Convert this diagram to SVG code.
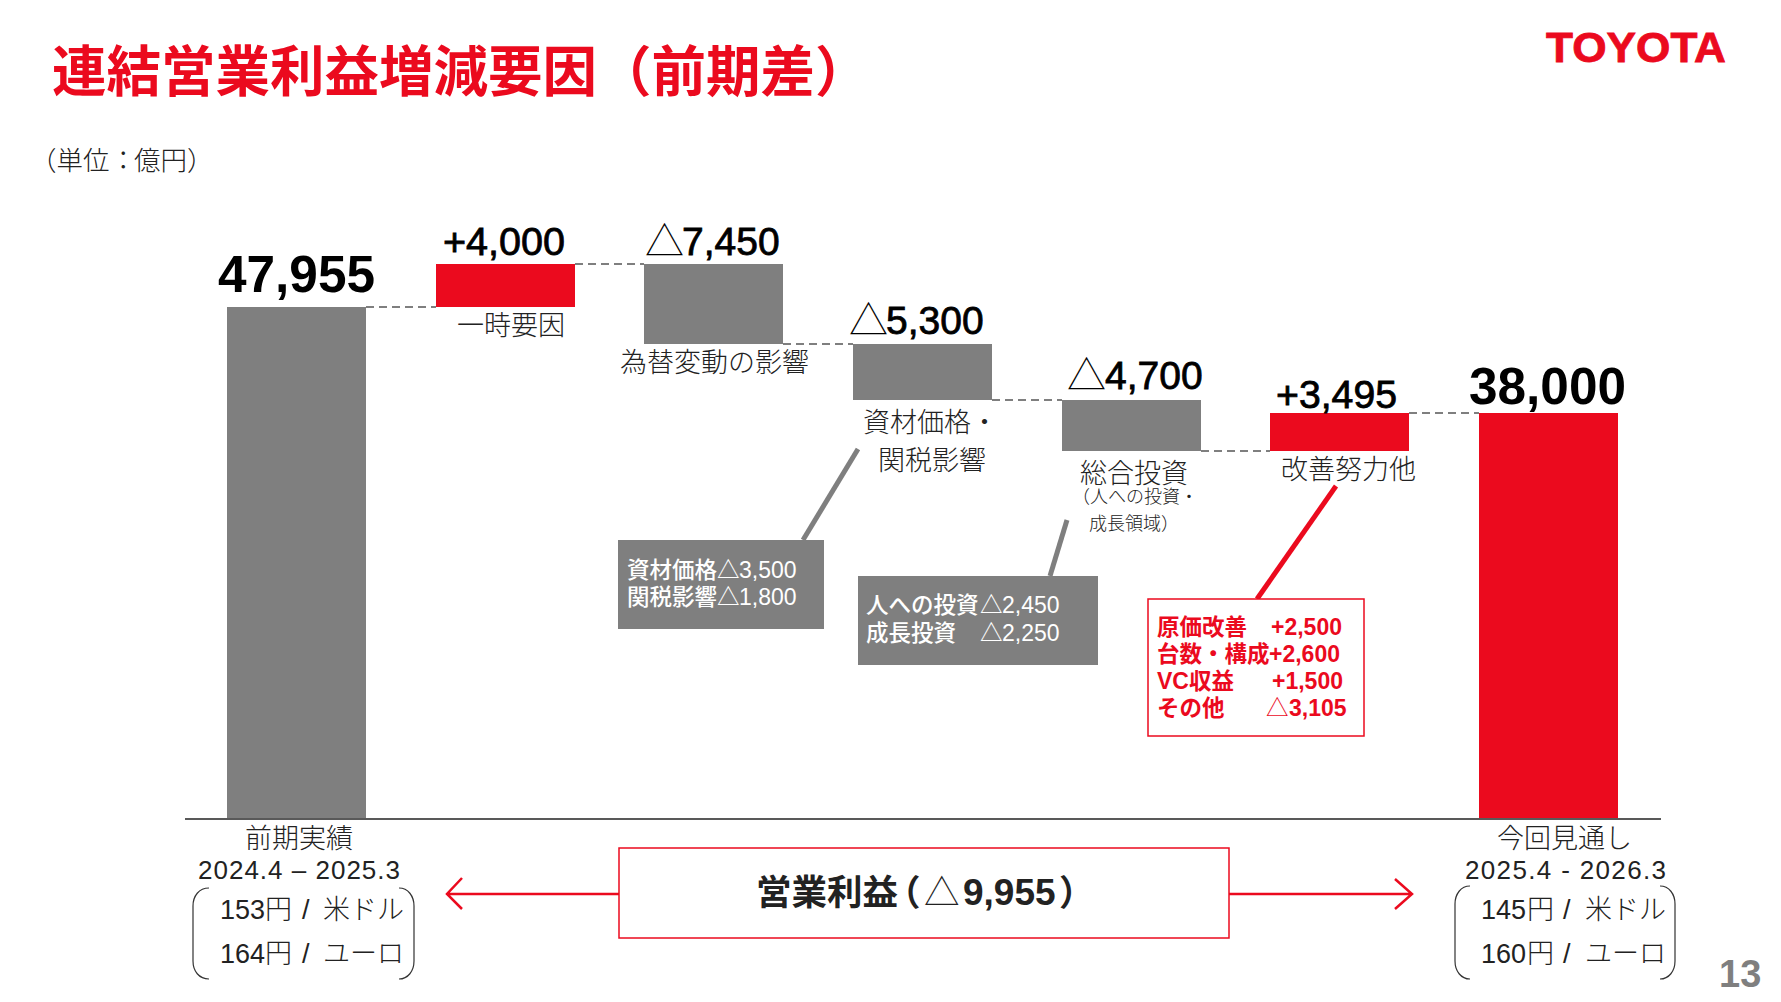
<svg xmlns="http://www.w3.org/2000/svg" width="1781" height="1002" viewBox="0 0 1781 1002">
<style>
text{font-family:"Noto Sans CJK JP","Liberation Sans",sans-serif;fill:#222}
.n{font-family:"Liberation Sans","Noto Sans CJK JP",sans-serif;fill:#000}
.v{font-size:39px;font-weight:400;stroke:#000;stroke-width:.8}
.big{font-size:52px;font-weight:700}
.tri{font-family:"Noto Sans CJK JP",sans-serif;font-weight:300;stroke:none}
.l{font-size:27px;font-weight:300}
.s{font-size:18px;font-weight:300}
.d{font-family:"Liberation Sans","Noto Sans CJK JP",sans-serif;font-size:26px;fill:#222}
.m{font-family:"Liberation Sans",sans-serif;font-size:27px;fill:#222}
.w{font-size:22.5px;fill:#fff;font-weight:500}
.r{font-size:22.5px;fill:#eb0a1e;font-weight:700}
.num{font-family:"Liberation Sans",sans-serif;font-size:23px}
.gray{fill:#7f7f7f}.red{fill:#eb0a1e}
.dash{stroke:#7f7f7f;stroke-width:2;stroke-dasharray:8 5;fill:none}
.br{fill:none;stroke:#333;stroke-width:1.2}
</style>
<g id="connectors">
<line class="dash" x1="366" y1="307" x2="436" y2="307"/>
<line class="dash" x1="575" y1="264" x2="644" y2="264"/>
<line class="dash" x1="783" y1="344" x2="853" y2="344"/>
<line class="dash" x1="992" y1="400" x2="1062" y2="400"/>
<line class="dash" x1="1201" y1="451" x2="1270" y2="451"/>
<line class="dash" x1="1409" y1="413" x2="1479" y2="413"/>
<line x1="858" y1="449" x2="803" y2="540" stroke="#7f7f7f" stroke-width="5"/>
<line x1="1067" y1="520" x2="1050" y2="576" stroke="#7f7f7f" stroke-width="5"/>
<line x1="1336" y1="486" x2="1257" y2="599" stroke="#eb0a1e" stroke-width="5"/>
<path d="M619 894H447M462 878L447 894L462 909" fill="none" stroke="#eb0a1e" stroke-width="2.5"/>
<path d="M1229 894H1412M1395 879L1412 894L1395 909" fill="none" stroke="#eb0a1e" stroke-width="2.5"/>
</g>
<g id="title"><text x="52" y="91" font-size="54.5" font-weight="700" style="fill:#eb0a1e">連結営業利益増減要因（前期差）</text></g>
<g id="logo"><text x="1546" y="62" font-size="42" textLength="180" lengthAdjust="spacingAndGlyphs" style="font-family:'Liberation Sans',sans-serif;font-weight:700;fill:#eb0a1e;stroke:#eb0a1e;stroke-width:.8">TOYOTA</text></g>
<g id="unit"><text y="170" font-size="26.5" font-weight="300" x="30">（単位<tspan x="110">：</tspan><tspan x="134">億円）</tspan></text></g>
<g id="bar-prev"><rect class="gray" x="227" y="307" width="139" height="513"/><text class="n big" x="218" y="292" textLength="157" lengthAdjust="spacingAndGlyphs">47,955</text></g>
<g id="bar-onetime"><rect class="red" x="436" y="264" width="139" height="43"/><text class="n v" x="443" y="255" textLength="122" lengthAdjust="spacingAndGlyphs">+4,000</text><text class="l" x="457" y="335">一時要因</text></g>
<g id="bar-fx"><rect class="gray" x="644" y="264" width="139" height="80"/><text class="n v" x="645" y="255"><tspan class="tri">△</tspan><tspan x="682">7,450</tspan></text><text class="l" x="620" y="372">為替変動の影響</text></g>
<g id="bar-material"><rect class="gray" x="853" y="344" width="139" height="56"/><text class="n v" x="849" y="334"><tspan class="tri">△</tspan><tspan x="886">5,300</tspan></text><text class="l" x="863" y="432">資材価格・</text><text class="l" x="878" y="470">関税影響</text></g>
<g id="bar-invest"><rect class="gray" x="1062" y="400" width="139" height="51"/><text class="n v" x="1067" y="389"><tspan class="tri">△</tspan><tspan x="1105">4,700</tspan></text><text class="l" x="1080" y="483">総合投資</text><text class="s" x="1072" y="503">（人への投資・</text><text class="s" x="1089" y="530">成長領域）</text></g>
<g id="bar-improve"><rect class="red" x="1270" y="413" width="139" height="38"/><text class="n v" x="1276" y="408" textLength="121" lengthAdjust="spacingAndGlyphs">+3,495</text><text class="l" x="1281" y="479">改善努力他</text></g>
<g id="bar-now"><rect class="red" x="1479" y="413" width="139" height="407"/><text class="n big" x="1469" y="404" textLength="157" lengthAdjust="spacingAndGlyphs">38,000</text></g>
<g id="axis"><line x1="185" y1="819" x2="1661" y2="819" stroke="#595959" stroke-width="2"/></g>
<g id="box-material"><rect class="gray" x="618" y="540" width="206" height="89"/><text class="w" x="627" y="578">資材価格<tspan x="717">△</tspan><tspan class="num" x="739">3,500</tspan></text><text class="w" x="627" y="605">関税影響<tspan x="717">△</tspan><tspan class="num" x="739">1,800</tspan></text></g>
<g id="box-invest"><rect class="gray" x="858" y="576" width="240" height="89"/><text class="w" x="866" y="613">人への投資<tspan x="980">△</tspan><tspan class="num" x="1002">2,450</tspan></text><text class="w" x="866" y="641">成長投資<tspan x="980">△</tspan><tspan class="num" x="1002">2,250</tspan></text></g>
<g id="box-improve"><rect x="1148" y="599" width="216" height="137" fill="#fff" stroke="#eb0a1e" stroke-width="1.5"/>
<text class="r" x="1157" y="635">原価改善<tspan class="num" x="1271">+2,500</tspan></text>
<text class="r" x="1157" y="662">台数・構成<tspan class="num" x="1269">+2,600</tspan></text>
<text class="r" x="1157" y="689"><tspan class="num">VC</tspan>収益<tspan class="num" x="1272">+1,500</tspan></text>
<text class="r" x="1157" y="716">その他<tspan x="1266" font-weight="400">△</tspan><tspan class="num" x="1289">3,105</tspan></text></g>
<g id="box-total"><rect x="619" y="848" width="610" height="90" fill="#fff" stroke="#eb0a1e" stroke-width="1.5"/><text x="756" y="905" font-size="35.5" font-weight="700">営業利益<tspan x="885">（</tspan><tspan x="924" font-weight="300">△</tspan><tspan x="963" font-size="37" style="font-family:'Liberation Sans',sans-serif">9,955</tspan><tspan x="1059">）</tspan></text></g>
<g id="label-prev"><text class="l" x="245" y="848">前期実績</text><text class="d" x="198" y="879" textLength="202">2024.4 – 2025.3</text>
<text class="l" y="919"><tspan class="m" x="220">153</tspan><tspan x="265">円</tspan><tspan class="m" x="302">/</tspan><tspan x="323">米ドル</tspan></text>
<text class="l" y="963"><tspan class="m" x="220">164</tspan><tspan x="265">円</tspan><tspan class="m" x="302">/</tspan><tspan x="323">ユーロ</tspan></text>
<path class="br" d="M209 888C199 888 193 896 193 906V961C193 971 199 979 209 979M399 888C408 888 414 896 414 906V961C414 971 408 979 399 979"/></g>
<g id="label-now"><text class="l" x="1497" y="848">今回見通し</text><text class="d" x="1465" y="879" textLength="201">2025.4 - 2026.3</text>
<text class="l" y="919"><tspan class="m" x="1481">145</tspan><tspan x="1527">円</tspan><tspan class="m" x="1563">/</tspan><tspan x="1585">米ドル</tspan></text>
<text class="l" y="963"><tspan class="m" x="1481">160</tspan><tspan x="1527">円</tspan><tspan class="m" x="1563">/</tspan><tspan x="1585">ユーロ</tspan></text>
<path class="br" d="M1470 886C1461 886 1455 894 1455 904V961C1455 971 1461 979 1470 979M1660 886C1669 886 1675 894 1675 904V961C1675 971 1669 979 1660 979"/></g>
<g id="page"><text x="1719" y="987" font-size="38" font-weight="700" style="font-family:'Liberation Sans',sans-serif;fill:#7f7f7f">13</text></g>
</svg>
